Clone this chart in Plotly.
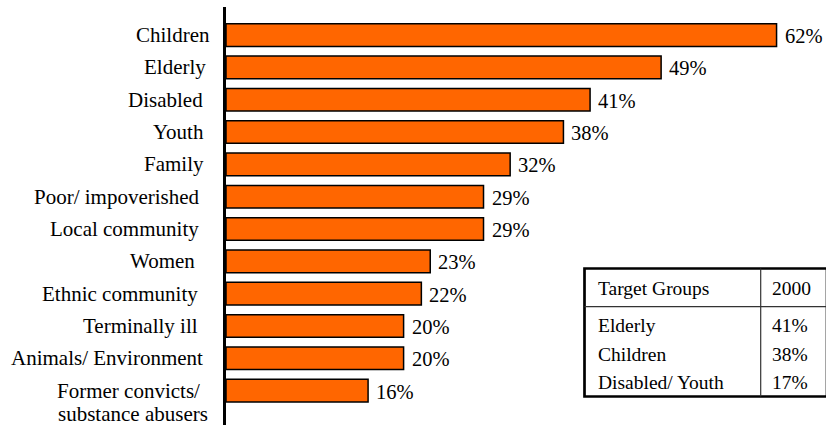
import plotly.graph_objects as go

# Share of organisations serving each target group (%)
groups = [
    "Children", "Elderly", "Disabled", "Youth", "Family",
    "Poor/ impoverished", "Local community", "Women",
    "Ethnic community", "Terminally ill", "Animals/ Environment",
    "Former convicts/<br>substance abusers",
]
shares = [62, 49, 41, 38, 32, 29, 29, 23, 22, 20, 20, 16]

# Comparison table for the year 2000
table_header = ["Target Groups", "2000"]
table_groups = ["Elderly", "Children", "Disabled/ Youth"]
table_2000 = ["41%", "38%", "17%"]

W, H = 826, 425
FONT = "Liberation Serif"
ORANGE = "#FF6600"

# gap (px) between each category label line and the axis line
label_gap = [[14], [18], [21], [20], [20], [24], [25], [29], [26], [26], [21],
             [24, 16]]
LINE_STEP = 23  # px between lines of a wrapped label

idx = list(range(len(groups)))

fig = go.Figure()
fig.add_trace(go.Bar(
    x=shares, y=idx, orientation="h", width=0.7,
    marker=dict(color=ORANGE, line=dict(color="black", width=1.5)),
    hoverinfo="skip", showlegend=False,
))

annotations = []
for i, (g, v) in enumerate(zip(groups, shares)):
    annotations.append(dict(
        x=v, y=i, xref="x", yref="y", text=f"{v}%", showarrow=False,
        xanchor="left", yanchor="middle", xshift=6, yshift=-1,
        font=dict(family=FONT, size=20.5, color="black"),
    ))
    for k, line in enumerate(g.split("<br>")):
        annotations.append(dict(
            x=0, y=i, xref="x", yref="y", text=line, showarrow=False,
            xanchor="right", yanchor="middle",
            xshift=-label_gap[i][k], yshift=-LINE_STEP * k,
            font=dict(family=FONT, size=21, color="black"),
        ))


def px(x):
    return x / W


def py(y):
    return 1 - y / H


# table frame and grid
tl, tr, tt, tb = 584.5, 827, 268.5, 396.5
col_x, head_y = 760.7, 306.7
shapes = [
    dict(type="rect", xref="paper", yref="paper",
         x0=px(tl), x1=px(tr), y0=py(tb), y1=py(tt),
         line=dict(color="black", width=2.7), fillcolor="white", layer="above"),
    dict(type="line", xref="paper", yref="paper",
         x0=px(tl), x1=px(tr), y0=py(head_y), y1=py(head_y),
         line=dict(color="#333333", width=1.2), layer="above"),
    dict(type="line", xref="paper", yref="paper",
         x0=px(col_x), x1=px(col_x), y0=py(tb), y1=py(tt),
         line=dict(color="#333333", width=1.2), layer="above"),
]

tfont = dict(family=FONT, size=19.5, color="black")
col1_x, col2_x = 595.5, 769.5
annotations.append(dict(x=px(col1_x), y=py(288), xref="paper", yref="paper",
                        text=table_header[0], showarrow=False,
                        xanchor="left", yanchor="middle", font=tfont))
annotations.append(dict(x=px(col2_x), y=py(288), xref="paper", yref="paper",
                        text=table_header[1], showarrow=False,
                        xanchor="left", yanchor="middle", font=tfont))
row_y = [325, 354, 382.5]
for ry, g, v in zip(row_y, table_groups, table_2000):
    annotations.append(dict(x=px(col1_x), y=py(ry), xref="paper", yref="paper",
                            text=g, showarrow=False,
                            xanchor="left", yanchor="middle", font=tfont))
    annotations.append(dict(x=px(col2_x), y=py(ry), xref="paper", yref="paper",
                            text=v, showarrow=False,
                            xanchor="left", yanchor="middle", font=tfont))

# axis geometry: bar centres start at 35 px and step 32.32 px
step, first = 32.32, 35.09
top_px = 7
y_top = (top_px - first) / step
y_bot = (H - first) / step
x_px_per_pct = 8.88
x0_px = 226

fig.update_layout(
    width=W, height=H,
    margin=dict(l=0, r=0, t=0, b=0),
    paper_bgcolor="white", plot_bgcolor="white",
    bargap=0.3,
    xaxis=dict(domain=[x0_px / W, 1], range=[0, (W - x0_px) / x_px_per_pct],
               visible=False, fixedrange=True),
    yaxis=dict(domain=[0, 1 - top_px / H], range=[y_bot, y_top],
               showline=True, linecolor="black", linewidth=2.7,
               showticklabels=False, ticks="", showgrid=False,
               zeroline=False, fixedrange=True),
    shapes=shapes,
    annotations=annotations,
    font=dict(family=FONT),
)

fig.write_html("out.html")
